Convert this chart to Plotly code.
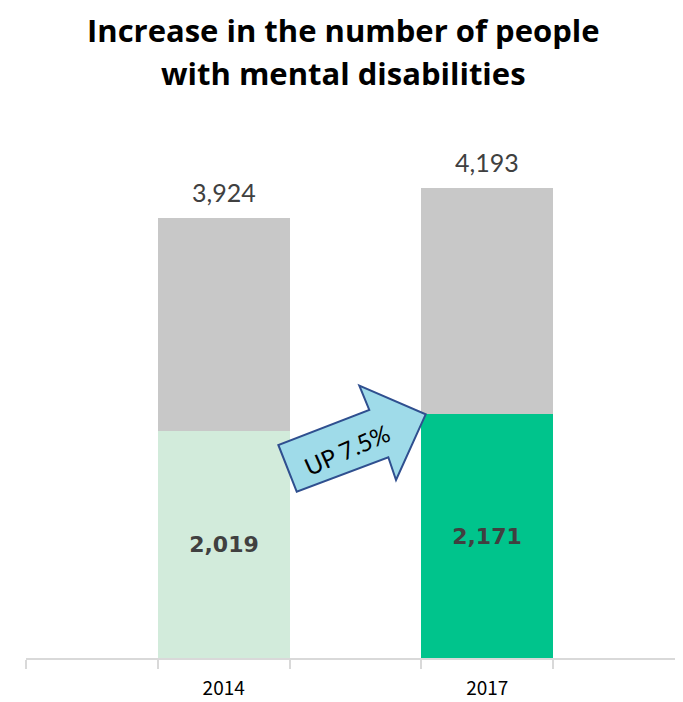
import plotly.graph_objects as go

# ---- data ----
positions = [1, 3]                 # category slots (5 slots, bars in 2nd and 4th)
years = ["2014", "2017"]
mental = [2019, 2171]              # people with mental disabilities (green)
totals = [3924, 4193]              # total (label above bar)
others = [t - m for t, m in zip(totals, mental)]
bottom_colors = ["#d2ebdb", "#00c48c"]
arrow_text = "UP 7.5%"
title_lines = ["Increase in the number of people", "with mental disabilities"]

W, H = 683, 702
OFF = 8                                   # page body offset
ML, MR, MT, MB = 18, 6, 89, 52
PW, PH = W - ML - MR, H - MT - MB


def px2paper(px, py):
    fx, fy = px - OFF, py - OFF
    return (fx - ML) / PW, (H - MB - fy) / PH


fig = go.Figure()
fig.add_trace(go.Bar(
    x=positions, y=mental, width=1,
    marker=dict(color=bottom_colors, line=dict(width=0)),
    text=[f"{v:,}" for v in mental], textposition="inside",
    insidetextanchor="middle",
    textfont=dict(family="DejaVu Sans", size=22, color="#404040", weight="bold"),
    showlegend=False, hoverinfo="skip",
))
fig.add_trace(go.Bar(
    x=positions, y=others, width=1,
    marker=dict(color="#c8c8c8", line=dict(width=0)),
    showlegend=False, hoverinfo="skip",
))

for x, t in zip(positions, totals):
    fig.add_annotation(x=x, y=t, xref="x", yref="y", text=f"{t:,}",
                       showarrow=False, yanchor="bottom", yshift=9,
                       font=dict(family="Lato", size=25, color="#404040"))

# arrow decoration (pixel outline converted to paper coords)
arrow_px = [(296.7, 491.7), (278.3, 445), (369.3, 410), (359.3, 385.7),
            (425.7, 414.3), (396, 480), (388.3, 457.3)]
pts = [px2paper(a, b) for a, b in arrow_px]
path = "M " + " L ".join(f"{a:.4f},{b:.4f}" for a, b in pts) + " Z"
fig.add_shape(type="path", path=path, xref="paper", yref="paper",
              fillcolor="#9fdbe9", line=dict(color="#2f4f8f", width=2), layer="above")
tx, ty = px2paper(347, 450)
fig.add_annotation(x=tx, y=ty, xref="paper", yref="paper", text=arrow_text,
                   showarrow=False, textangle=-24,
                   font=dict(family="Lato", size=24, color="#000000"))

# title (two lines, placed separately for the line spacing)
tcx = px2paper(343, 0)[0]
for line, py in zip(title_lines, [30, 73]):
    ay = px2paper(343, py)[1]
    fig.add_annotation(x=tcx, y=ay, xref="paper", yref="paper", text=f"<b>{line}</b>",
                       showarrow=False, xanchor="center", yanchor="middle",
                       borderpad=0,
                       font=dict(family="Open Sans", size=31, color="#000000"))

fig.update_layout(
    width=W, height=H,
    margin=dict(l=ML, r=MR, t=MT, b=MB),
    barmode="stack", bargap=0,
    plot_bgcolor="white", paper_bgcolor="white",
    xaxis=dict(range=[-0.5, 4.5], tickvals=positions, ticktext=years,
               ticks="", showgrid=False, zeroline=False,
               showline=True, linecolor="#d9d9d9", linewidth=2,
               ticklabelstandoff=12,
               tickfont=dict(family="Noto Sans CJK JP", size=19, color="#000000"),
               minor=dict(ticks="outside", tick0=-0.5, dtick=1, ticklen=9,
                          tickcolor="#d9d9d9", tickwidth=2, showgrid=False)),
    yaxis=dict(range=[0, 5000], visible=False, showgrid=False, zeroline=False),
)

fig.write_html("out.html")
